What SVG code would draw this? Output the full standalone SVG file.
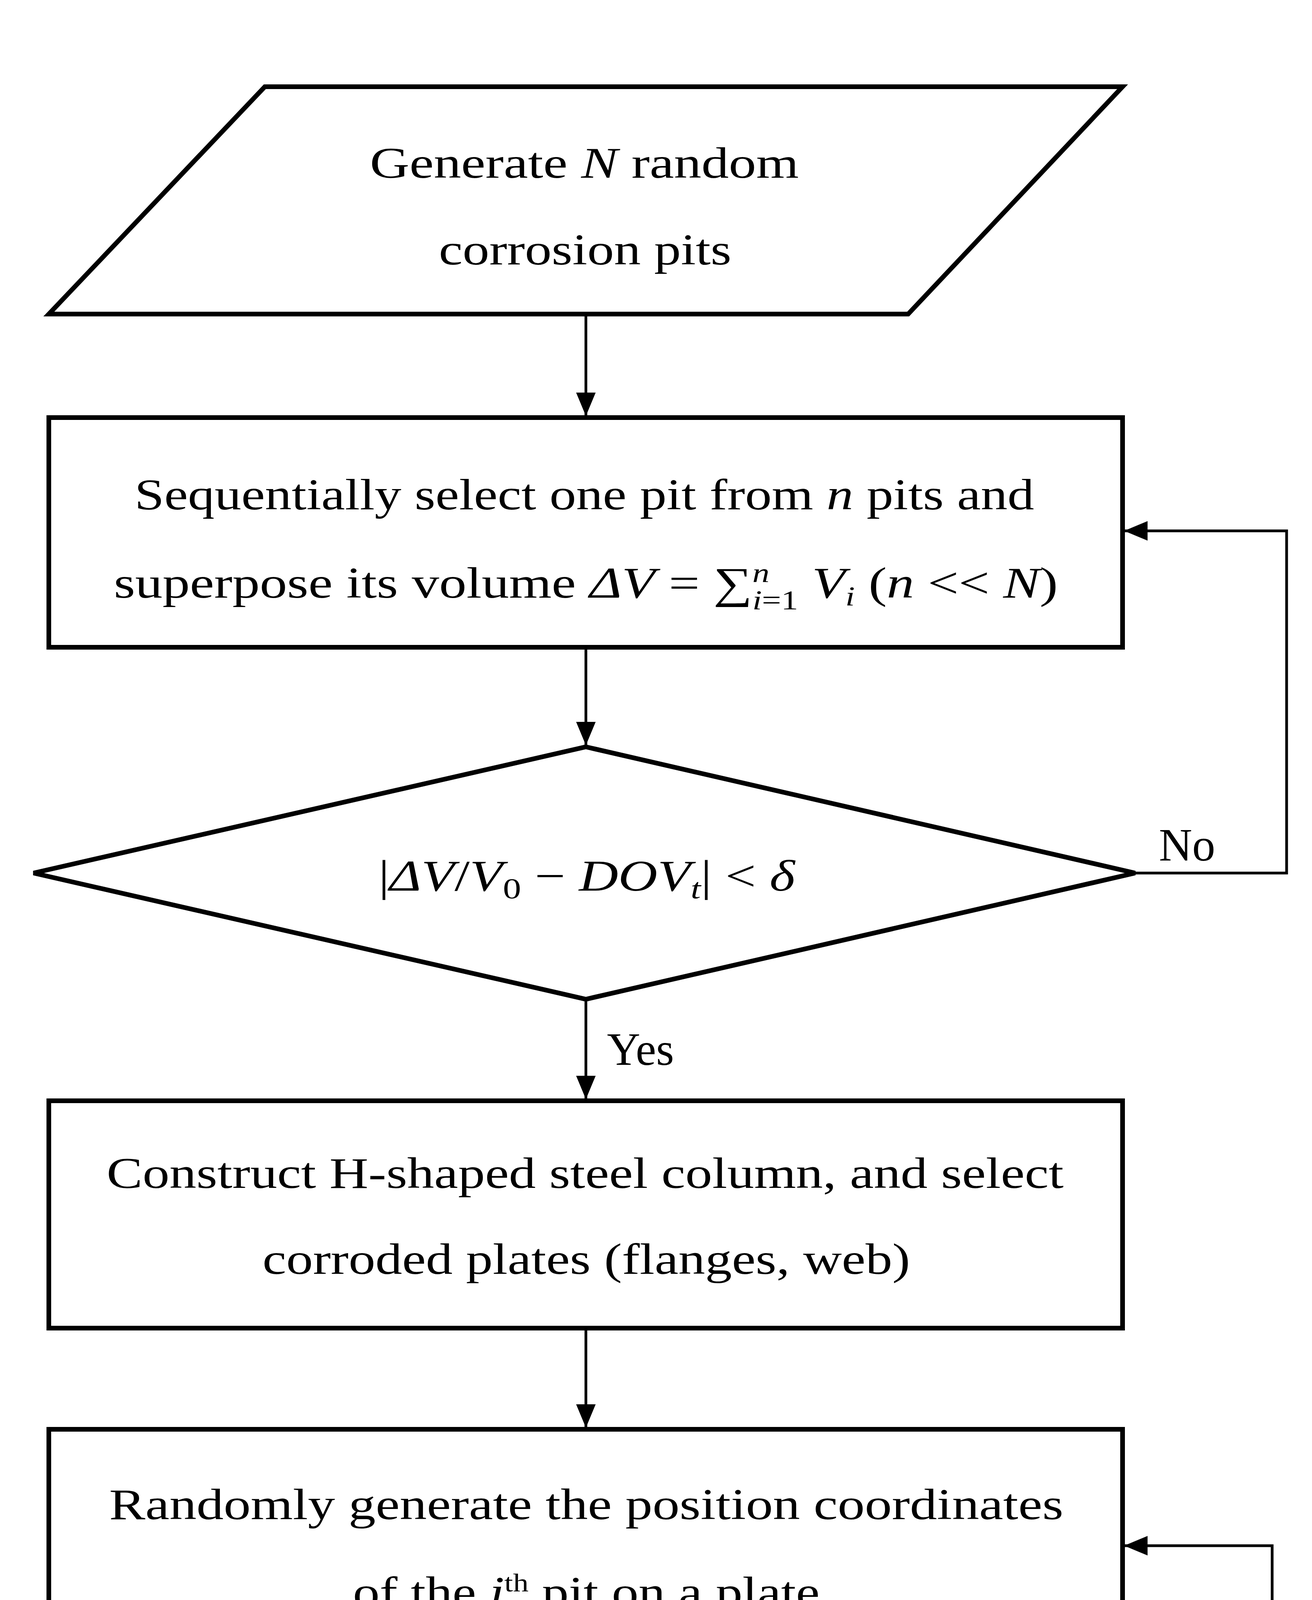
<svg xmlns="http://www.w3.org/2000/svg" width="3359" height="6150" viewBox="0 0 3359 6150">
<style>
.t{font-family:"Liberation Serif","DejaVu Serif",serif;font-size:112px;fill:#000;text-anchor:middle}
.l{font-family:"Liberation Serif","DejaVu Serif",serif;font-size:118px;fill:#000}
.i{font-style:italic}
.s{fill:#fff;stroke:#000;stroke-width:12}
.c{fill:none;stroke:#000;stroke-width:7}
</style>
<defs>
<marker id="b" viewBox="0 0 10 10" refX="10" refY="5" markerWidth="60" markerHeight="50" markerUnits="userSpaceOnUse" orient="auto" preserveAspectRatio="none"><path d="M0,0L10,5L0,10z" fill="#000"/></marker>
</defs>
<rect width="3359" height="6150" fill="#fff"/>
<g id="connectors">
<path class="c" d="M1500,810V1065" marker-end="url(#b)"/>
<path class="c" d="M1500,1660V1908" marker-end="url(#b)"/>
<path class="c" d="M2906,2235H3294V1359H2878" marker-end="url(#b)"/>
<path class="c" d="M1500,2558V2814" marker-end="url(#b)"/>
<path class="c" d="M1500,3403V3655" marker-end="url(#b)"/>
<path class="c" d="M1500,4251V4503" marker-end="url(#b)"/>
<path class="c" d="M2863,4826H3257V3957H2878" marker-end="url(#b)"/>
<path class="c" d="M1500,5150V5410" marker-end="url(#b)"/>
<text class="l" x="2967" y="2203">No</text>
<text class="l" x="1554" y="2726">Yes</text>
<text class="l" x="2911" y="4791">Yes</text>
<text class="l" x="1546" y="5301">No</text>
</g>
<g id="n1">
<path class="s" d="M678,222H2874L2325,804H125Z" stroke-width="9"/>
<text class="t" x="1496" y="455" textLength="1098" lengthAdjust="spacingAndGlyphs">Generate <tspan class="i">N</tspan> random</text>
<text class="t" x="1498" y="677" textLength="749" lengthAdjust="spacingAndGlyphs">corrosion pits</text>
</g>
<g id="n2">
<rect class="s" x="125" y="1069" width="2749" height="588" stroke-width="14"/>
<text class="t" x="1496" y="1304" textLength="2303" lengthAdjust="spacingAndGlyphs">Sequentially select one pit from <tspan class="i">n</tspan> pits and</text>
<text class="t" x="1500" y="1530" textLength="2417" lengthAdjust="spacingAndGlyphs">superpose its volume  <tspan class="i">ΔV</tspan> = ∑<tspan font-size="70" dy="-40" class="i">n</tspan><tspan font-size="70" dx="-35" dy="70" class="i">i</tspan><tspan font-size="70" dy="0">=1</tspan><tspan dy="-30" class="i"> V</tspan><tspan font-size="70" dy="20" class="i">i</tspan><tspan dy="-20">  (</tspan><tspan class="i">n</tspan> &lt;&lt; <tspan class="i">N</tspan>)</text>
</g>
<g id="n3">
<path class="s" d="M1500,1912L2906,2235L1500,2558L86,2235Z" stroke-width="10"/>
<text class="t" x="1502" y="2280" textLength="1066" lengthAdjust="spacingAndGlyphs">|<tspan class="i">ΔV</tspan>/<tspan class="i">V</tspan><tspan font-size="75" dy="20">0</tspan><tspan dy="-20"> − </tspan><tspan class="i">DOV</tspan><tspan font-size="75" dy="20" class="i">t</tspan><tspan dy="-20">| &lt; </tspan><tspan class="i">δ</tspan></text>
</g>
<g id="n4">
<rect class="s" x="125" y="2818" width="2749" height="582" stroke-width="14"/>
<text class="t" x="1498" y="3041" textLength="2450" lengthAdjust="spacingAndGlyphs">Construct H-shaped steel column, and select</text>
<text class="t" x="1501" y="3261" textLength="1658" lengthAdjust="spacingAndGlyphs">corroded plates (flanges, web)</text>
</g>
<g id="n5">
<rect class="s" x="125" y="3659" width="2749" height="589" stroke-width="14"/>
<text class="t" x="1501" y="3889" textLength="2443" lengthAdjust="spacingAndGlyphs">Randomly generate the position coordinates</text>
<text class="t" x="1501" y="4114" textLength="1195" lengthAdjust="spacingAndGlyphs">of the <tspan class="i">i</tspan><tspan font-size="65" dy="-40">th</tspan><tspan dy="40"> pit on a plate</tspan></text>
</g>
<g id="n6">
<path class="s" d="M1500,4507L2863,4826L1500,5150L125,4826Z" stroke-width="10"/>
<text class="t" x="1458" y="4869" textLength="1281" lengthAdjust="spacingAndGlyphs">Pit overlap or overflow</text>
</g>
<g id="n7">
<rect class="s" x="125" y="5414" width="2749" height="583" rx="300" ry="291" stroke-width="8"/>
<text class="t" x="1471" y="5752" textLength="2417" lengthAdjust="spacingAndGlyphs">Construct FE model of an H-section column</text>
</g>
</svg>
